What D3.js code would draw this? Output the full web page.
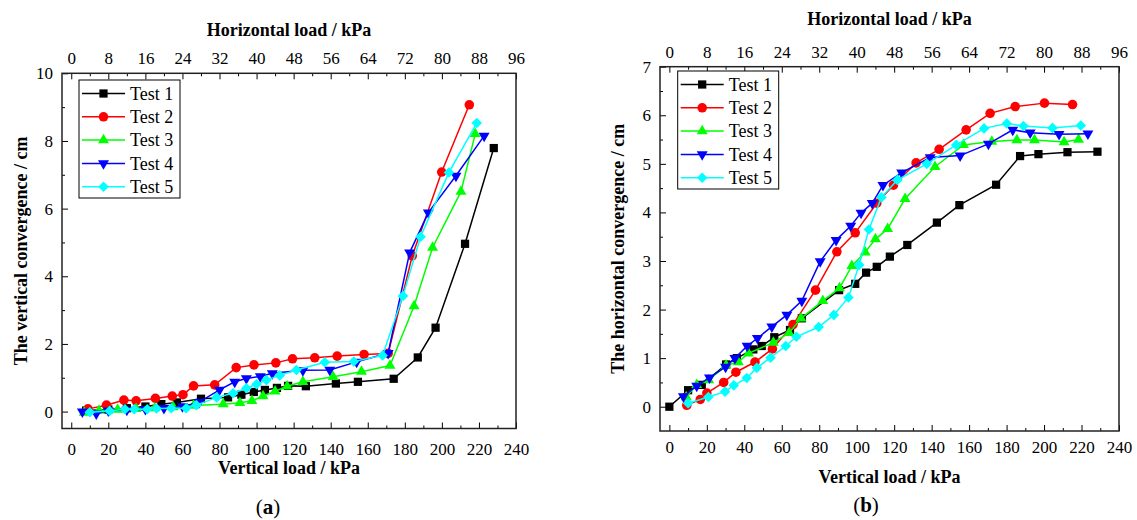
<!DOCTYPE html>
<html>
<head>
<meta charset="utf-8">
<script src="https://cdn.jsdelivr.net/npm/d3@7"></script>
<style>
  body { margin: 0; background: #fff; }
  svg { display: block; }
  text { font-family: "Liberation Serif", "Times New Roman", serif; fill: #000; }
</style>
</head>
<body>
<svg id="chart" width="1137" height="520"></svg>
<script>
// series names and looks
var testNames = ["Test 1", "Test 2", "Test 3", "Test 4", "Test 5"],
    seriesColors = ["#000000", "#ff0000", "#00ff00", "#0000ff", "#00ffff"],
    markerTypes = ["square", "circle", "triangle", "triangleDown", "diamond"];

// panel (a): vertical convergence (cm) against vertical load (kPa)
var vertTest1 = [[8,0.03],[20,0.06],[30,0.1],[40,0.15],[48.6,0.22],[57,0.27],[70,0.38],[84.6,0.42],[91.8,0.5],[98.5,0.58],[104.5,0.64],[111,0.7],[117,0.76],[126.6,0.75],[142.8,0.83],[154.7,0.88],[174,0.97],[187,1.6],[196.6,2.48],[212.5,4.96],[228,7.79]];
var vertTest2 = [[9,0.08],[19,0.19],[28.4,0.34],[35,0.32],[45.4,0.39],[54.5,0.46],[60.3,0.5],[66,0.76],[77.4,0.79],[89,1.3],[98.6,1.38],[110.4,1.44],[119.4,1.56],[131.4,1.59],[143.5,1.64],[158,1.69],[171,1.72],[184,4.6],[199.9,7.08],[214.8,9.07]];
var vertTest3 = [[7,-0.03],[15,0.03],[25,0.06],[35,0.08],[45,0.1],[55,0.13],[66,0.18],[82,0.22],[91,0.26],[97.5,0.32],[103.5,0.46],[110,0.6],[116.5,0.75],[125,0.88],[141.3,1.03],[156.6,1.18],[172,1.36],[185,3.12],[195,4.85],[210.3,6.5],[218,8.21]];
var vertTest4 = [[6,0.0],[13.5,-0.06],[20,0.03],[30,0.05],[40,0.07],[50,0.1],[60,0.15],[69,0.28],[80,0.64],[88.2,0.88],[94.5,0.98],[102,1.04],[108.5,1.13],[125,1.22],[139.5,1.23],[154,1.47],[171,1.73],[182.6,4.7],[192.7,5.88],[207.6,6.97],[222.8,8.15]];
var vertTest5 = [[10,-0.02],[20.7,0.02],[29,0.07],[34,0.07],[41,0.07],[46,0.09],[54,0.1],[62,0.1],[67.5,0.19],[78.5,0.42],[87.3,0.54],[94.5,0.69],[100,0.81],[105.3,0.93],[112.5,1.07],[121.5,1.23],[136.8,1.46],[152.5,1.48],[168,1.66],[179,3.42],[188.5,5.17],[203.8,7.07],[218.8,8.53]];

// panel (b): horizontal convergence (cm) against vertical load (kPa)
var horzTest1 = [[0,0],[10,0.34],[17.3,0.45],[30.3,0.87],[36,1.0],[44.8,1.18],[49.3,1.25],[56,1.43],[64.4,1.58],[70.7,1.82],[90.6,2.4],[99.2,2.53],[105,2.76],[110.7,2.88],[117.7,3.09],[127,3.33],[142.8,3.79],[154.8,4.15],[174.4,4.57],[187.2,5.16],[197,5.2],[212.5,5.24],[228.5,5.25]];
var horzTest2 = [[9.3,0.03],[16.5,0.15],[20,0.28],[29,0.5],[35.5,0.71],[45.7,0.92],[55,1.19],[66,1.69],[78,2.4],[89.4,3.19],[99.2,3.58],[110.7,4.19],[119.6,4.56],[131.7,5.02],[144,5.3],[158.4,5.7],[171.2,6.04],[184.6,6.18],[200.2,6.25],[215.2,6.22]];
var horzTest3 = [[9,0.2],[14.6,0.45],[21,0.55],[30.3,0.85],[36.8,0.92],[42.2,1.1],[55.5,1.32],[63.9,1.52],[70.3,1.82],[81.9,2.18],[90.8,2.44],[97.4,2.9],[104.5,3.18],[110,3.45],[116.5,3.66],[125.8,4.28],[141.8,4.94],[157,5.39],[172.1,5.46],[185.5,5.49],[194.9,5.49],[210.7,5.45],[218.4,5.5]];
var horzTest4 = [[7.5,0.21],[14.6,0.43],[21.4,0.6],[30,0.82],[35,1.0],[41.5,1.25],[47,1.41],[54.7,1.65],[62.7,1.89],[70.7,2.18],[80.5,2.99],[89,3.43],[96.8,3.72],[102.3,3.99],[108.3,4.19],[114,4.56],[124,4.82],[139.2,5.13],[155.2,5.17],[170.3,5.41],[183.3,5.7],[192.6,5.64],[208,5.61],[223.4,5.62]];
var horzTest5 = [[10,0.07],[20.8,0.2],[29.7,0.31],[34.4,0.44],[41.3,0.59],[46.7,0.8],[54,1.01],[62.1,1.25],[67.8,1.44],[79.7,1.64],[87.8,1.89],[95.6,2.25],[101.3,2.92],[106.5,3.65],[113.2,4.31],[121.7,4.67],[137.4,5.0],[153.1,5.39],[168,5.73],[180.1,5.83],[189,5.78],[204.5,5.74],[219.6,5.79]];

// ticks
var bottomTicks = d3.range(0, 241, 20),
    bottomMinor = d3.range(10, 240, 20),
    topTicks = d3.range(0, 97, 8),
    topMinor = d3.range(4, 96, 8),
    yTicksA = d3.range(0, 11, 2),
    yMinorA = d3.range(1, 10, 2),
    yTicksB = d3.range(0, 8, 1),
    yMinorB = d3.range(0.5, 7, 1);

var svg = d3.select("#chart");

var panels = [
    {
        left: 62, right: 516, top: 73.3, bottom: 428.5,
        yDomain: [-0.5, 10], yTicks: yTicksA, yMinor: yMinorA,
        series: [vertTest1, vertTest2, vertTest3, vertTest4, vertTest5],
        yTitle: "The vertical convergence / cm", yTitleX: 21,
        topTitleY: 36, bottomPad: 14, bottomTitleY: 474,
        caption: "a", captionX: 268, captionY: 514,
        legend: [79, 80]
    },
    {
        left: 660, right: 1119, top: 66.7, bottom: 431,
        yDomain: [-0.5, 7], yTicks: yTicksB, yMinor: yMinorB,
        series: [horzTest1, horzTest2, horzTest3, horzTest4, horzTest5],
        yTitle: "The horizontal convergence / cm", yTitleX: 618,
        topTitleY: 25, bottomPad: 10, bottomTitleY: 483,
        caption: "b", captionX: 866, captionY: 512,
        legend: [677.7, 71]
    }
];

function markerPath(type) {
    if (type === "square") return d3.symbol(d3.symbolSquare, 68)();
    if (type === "circle") return d3.symbol(d3.symbolCircle, 72)();
    if (type === "diamond") return d3.symbol(d3.symbolSquare, 56)();
    return d3.symbol(d3.symbolTriangle, 52)();
}

function markerRotate(type) {
    if (type === "triangleDown") return " rotate(180)";
    if (type === "diamond") return " rotate(45)";
    return "";
}

function styleAxis(g) {
    g.select(".domain").remove();
    g.selectAll(".tick line").attr("stroke", "#000").attr("stroke-width", 1);
    g.selectAll("text").style("font-size", "17px").attr("fill", "#000");
}

function drawPanel(p) {
    var x = d3.scaleLinear().domain([-5, 240]).range([p.left, p.right]),
        xTop = d3.scaleLinear().domain([-2, 96]).range([p.left, p.right]),
        y = d3.scaleLinear().domain(p.yDomain).range([p.bottom, p.top]);

    // axes, ticks point inward
    svg.append("g").attr("transform", "translate(0," + p.bottom + ")")
        .call(d3.axisBottom(x).tickValues(bottomTicks).tickSize(-6).tickPadding(p.bottomPad))
        .call(styleAxis);
    svg.append("g").attr("transform", "translate(0," + p.bottom + ")")
        .call(d3.axisBottom(x).tickValues(bottomMinor).tickSize(-3).tickFormat(""))
        .call(styleAxis);

    svg.append("g").attr("transform", "translate(0," + p.top + ")")
        .call(d3.axisTop(xTop).tickValues(topTicks).tickSize(-6).tickPadding(9))
        .call(styleAxis);
    svg.append("g").attr("transform", "translate(0," + p.top + ")")
        .call(d3.axisTop(xTop).tickValues(topMinor).tickSize(-3).tickFormat(""))
        .call(styleAxis);

    svg.append("g").attr("transform", "translate(" + p.left + ",0)")
        .call(d3.axisLeft(y).tickValues(p.yTicks).tickSize(-6).tickPadding(9))
        .call(styleAxis);
    svg.append("g").attr("transform", "translate(" + p.left + ",0)")
        .call(d3.axisLeft(y).tickValues(p.yMinor).tickSize(-3).tickFormat(""))
        .call(styleAxis);

    // frame
    svg.append("rect")
        .attr("x", p.left).attr("y", p.top)
        .attr("width", p.right - p.left).attr("height", p.bottom - p.top)
        .attr("fill", "none").attr("stroke", "#222").attr("stroke-width", 1.5);

    // series
    var line = d3.line().x(function (d) { return x(d[0]); }).y(function (d) { return y(d[1]); });
    p.series.forEach(function (data, i) {
        var g = svg.append("g");
        g.append("path").datum(data)
            .attr("d", line)
            .attr("fill", "none")
            .attr("stroke", seriesColors[i])
            .attr("stroke-width", 1.5);
        g.selectAll("path.mk").data(data).enter().append("path")
            .attr("class", "mk")
            .attr("d", markerPath(markerTypes[i]))
            .attr("transform", function (d) {
                return "translate(" + x(d[0]) + "," + y(d[1]) + ")" + markerRotate(markerTypes[i]);
            })
            .attr("fill", seriesColors[i]);
    });

    // titles
    svg.append("text")
        .attr("x", (p.left + p.right) / 2).attr("y", p.topTitleY)
        .attr("text-anchor", "middle")
        .style("font-size", "18px").style("font-weight", "bold")
        .text("Horizontal load / kPa");
    svg.append("text")
        .attr("x", (p.left + p.right) / 2).attr("y", p.bottomTitleY)
        .attr("text-anchor", "middle")
        .style("font-size", "18px").style("font-weight", "bold")
        .text("Vertical load / kPa");
    svg.append("text")
        .attr("transform", "translate(" + p.yTitleX + "," + ((p.top + p.bottom) / 2) + ") rotate(-90)")
        .attr("text-anchor", "middle").attr("dy", "0.35em")
        .style("font-size", "18px").style("font-weight", "bold")
        .text(p.yTitle);

    var cap = svg.append("text")
        .attr("x", p.captionX).attr("y", p.captionY)
        .attr("text-anchor", "middle")
        .style("font-size", "21px");
    cap.append("tspan").text("(");
    cap.append("tspan").style("font-weight", "bold").text(p.caption);
    cap.append("tspan").text(")");

    // legend
    var lg = svg.append("g").attr("transform", "translate(" + p.legend[0] + "," + p.legend[1] + ")");
    lg.append("rect").attr("width", 101).attr("height", 118)
        .attr("fill", "#fff").attr("stroke", "#000").attr("stroke-width", 1);
    testNames.forEach(function (name, i) {
        var cy = 13.5 + i * 23.3;
        lg.append("line").attr("x1", 3).attr("x2", 46).attr("y1", cy).attr("y2", cy)
            .attr("stroke", seriesColors[i]).attr("stroke-width", 1.5);
        lg.append("path").attr("d", markerPath(markerTypes[i]))
            .attr("transform", "translate(24.5," + cy + ")" + markerRotate(markerTypes[i]))
            .attr("fill", seriesColors[i]);
        lg.append("text").attr("x", 51).attr("y", cy).attr("dy", "0.35em")
            .style("font-size", "18px").text(name);
    });
}

panels.forEach(drawPanel);
</script>
</body>
</html>
